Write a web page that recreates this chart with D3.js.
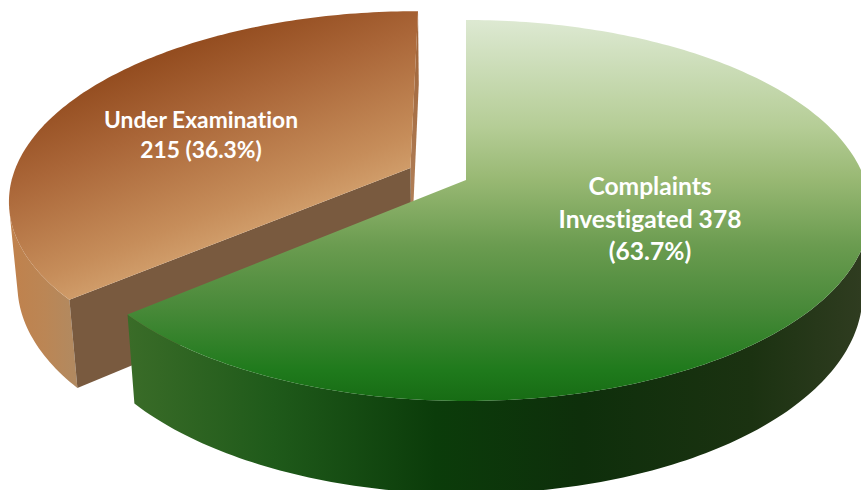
<!DOCTYPE html>
<html>
<head>
<meta charset="utf-8">
<script src="https://cdn.jsdelivr.net/npm/d3@7"></script>
<style>
    html, body { margin: 0; padding: 0; background: #fff; overflow: hidden; }
    svg { display: block; }
    text { font-family: Lato, "Open Sans", sans-serif; font-weight: 700; fill: #fff; text-anchor: middle; font-variant-ligatures: none; }
</style>
</head>
<body>
<div id="vis"></div>
<script>
// Data
const categories = ["Complaints Investigated", "Under Examination"];
const values = [378, 215];
const labelLines = [
    ["Complaints", "Investigated 378", "(63.7%)"],
    ["Under Examination", "215 (36.3%)"]
];
const explode = [0, 0.155];

const WIDTH = 861;
const HEIGHT = 490;

// Perspective view of the disc: u to the right, v to the viewer, z down (0 = top, 1 = bottom)
const view = { cx: 466, radius: 399, a: 156.8, b: 180, c: -0.16, depth: 87.2, g: 0.0186 };

function project(u, v, z) {
    const w = 1 + view.c * v + view.g * z;
    return [
        view.cx + view.radius * u / w,
        (view.a * v + view.b + view.depth * z) / w
    ];
}

const SVG = d3.select("#vis")
    .append("svg")
    .attr("width", WIDTH)
    .attr("height", HEIGHT);

const defs = SVG.append("defs");

function gradient(id, x1, y1, x2, y2, stops) {
    const g = defs.append("linearGradient")
        .attr("id", id)
        .attr("gradientUnits", "userSpaceOnUse")
        .attr("x1", x1).attr("y1", y1)
        .attr("x2", x2).attr("y2", y2);
    g.selectAll("stop")
        .data(stops)
        .join("stop")
        .attr("offset", d => d[0])
        .attr("stop-color", d => d[1]);
}

gradient("greenTop", 0, 20, 0, 401, [
    [0, "#dde9d2"], [0.28, "#b5cd96"], [0.42, "#98b873"], [0.59, "#6b9c50"],
    [0.75, "#4a8a3a"], [0.92, "#1f7a1c"], [1, "#176c14"]
]);
gradient("greenWall", 127, 0, 861, 0, [
    [0, "#3a6c28"], [0.2, "#1f5a1a"], [0.42, "#0b3c0a"], [0.62, "#0e2f0b"],
    [0.85, "#1b3211"], [1, "#2f3c20"]
]);
gradient("orangeTop", 286, 8, 360, 199, [
    [0, "#944d20"], [0.33, "#aa6638"], [0.8, "#c68d5a"], [1, "#d3a16e"]
]);
gradient("orangeWall", 10, 0, 80, 0, [
    [0, "#c0814c"], [0.5, "#bb8655"], [1, "#b08a62"]
]);
gradient("orangeCut", 0, 11, 0, 250, [
    [0, "#9e6236"], [1, "#b58660"]
]);

const pie = d3.pie().sort(null).value(d => d);
const arcs = pie(values);

const line = d3.line();
const step = Math.PI / 180;

// Point on the rim at a pie angle (0 = top, clockwise)
function rim(angle, i, z, r = 1) {
    const mid = (arcs[i].startAngle + arcs[i].endAngle) / 2;
    const u = r * Math.sin(angle) + explode[i] * Math.sin(mid);
    const v = -r * Math.cos(angle) - explode[i] * Math.cos(mid);
    return project(u, v, z);
}

function angles(d) {
    return d3.range(d.startAngle, d.endAngle, step).concat(d.endAngle);
}

function topPath(d, i) {
    return line([rim(0, i, 0, 0), ...angles(d).map(a => rim(a, i, 0))]) + "Z";
}

// Flat face from the centre to the rim
function cutPath(angle, i) {
    return line([
        rim(0, i, 0, 0), rim(angle, i, 0),
        rim(angle, i, 1), rim(0, i, 1, 0)
    ]) + "Z";
}

// Outer wall: only the part of the rim that faces the viewer
function wallPath(d, i) {
    const front = d3.pairs(angles(d)).filter(([a0, a1]) => d3.polygonArea([
        rim(a0, i, 0), rim(a1, i, 0), rim(a1, i, 1), rim(a0, i, 1)
    ]) > 0);
    const visible = [front[0][0], ...front.map(p => p[1])];
    return line([
        ...visible.map(a => rim(a, i, 0)),
        ...visible.reverse().map(a => rim(a, i, 1))
    ]) + "Z";
}

// Exploded slice first, the big one goes over it
const green = arcs[0];
const orange = arcs[1];

SVG.append("path").attr("d", wallPath(orange, 1)).attr("fill", "url(#orangeWall)");
SVG.append("path").attr("d", cutPath(orange.endAngle, 1)).attr("fill", "url(#orangeCut)");
SVG.append("path").attr("d", cutPath(orange.startAngle, 1)).attr("fill", "#795a3f");
SVG.append("path").attr("d", topPath(orange, 1)).attr("fill", "url(#orangeTop)");

SVG.append("path").attr("d", wallPath(green, 0)).attr("fill", "url(#greenWall)");
SVG.append("path").attr("d", topPath(green, 0)).attr("fill", "url(#greenTop)");

// Labels
const labelPos = [[650, 195], [201, 127.5]];
const labelStep = [32.5, 30.5];
const labelSize = [24.6, 22.8];

const labels = SVG.selectAll(".label")
    .data(labelLines)
    .join("text")
    .attr("class", "label")
    .attr("font-size", (d, i) => labelSize[i]);

labels.selectAll("tspan")
    .data((d, i) => d.map((t, j) => ({ t, j, i })))
    .join("tspan")
    .attr("x", d => labelPos[d.i][0])
    .attr("y", d => labelPos[d.i][1] + d.j * labelStep[d.i])
    .text(d => d.t);
</script>
</body>
</html>
